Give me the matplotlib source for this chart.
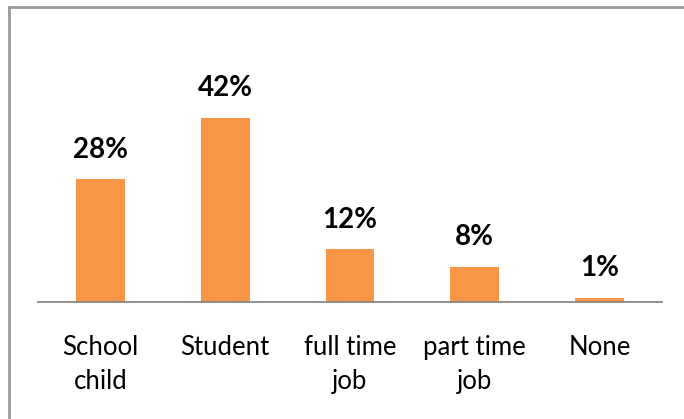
import matplotlib.pyplot as plt
from matplotlib.lines import Line2D

plt.rcParams['font.family'] = ['Lato', 'DejaVu Sans']

categories = ['School\nchild', 'Student', 'full time\njob', 'part time\njob', 'None']
shares = [28, 42, 12, 8, 1]

fig = plt.figure(figsize=(6.84, 4.19), dpi=100)
ax = fig.add_axes([38 / 684, 117 / 419, 624 / 684, 282 / 419])

x = range(len(categories))
ax.bar(x, shares, width=0.39, color='#F79646')

for xi, v in zip(x, shares):
    ax.annotate(f'{v}%', (xi, v), xytext=(0, 12), textcoords='offset points',
                ha='center', va='bottom', fontsize=20, fontweight='bold')

ax.set_xlim(-0.5, len(categories) - 0.5)
ax.set_ylim(0, 64.4)
ax.set_xticks(list(x))
ax.set_xticklabels(categories, fontsize=18.5, linespacing=1.45)
ax.tick_params(axis='x', length=0, pad=24)
ax.set_yticks([])
for side in ['top', 'left', 'right']:
    ax.spines[side].set_visible(False)
ax.spines['bottom'].set_color('#888888')
ax.spines['bottom'].set_linewidth(1.3)

# chart frame, clipped at right and bottom
fig.add_artist(Line2D([8.5 / 684, 8.5 / 684], [0, 1 - 7.5 / 419], color='#999999', lw=2))
fig.add_artist(Line2D([8.5 / 684, 1], [1 - 7.5 / 419, 1 - 7.5 / 419], color='#999999', lw=2))

fig.savefig('out.png', dpi=100)
